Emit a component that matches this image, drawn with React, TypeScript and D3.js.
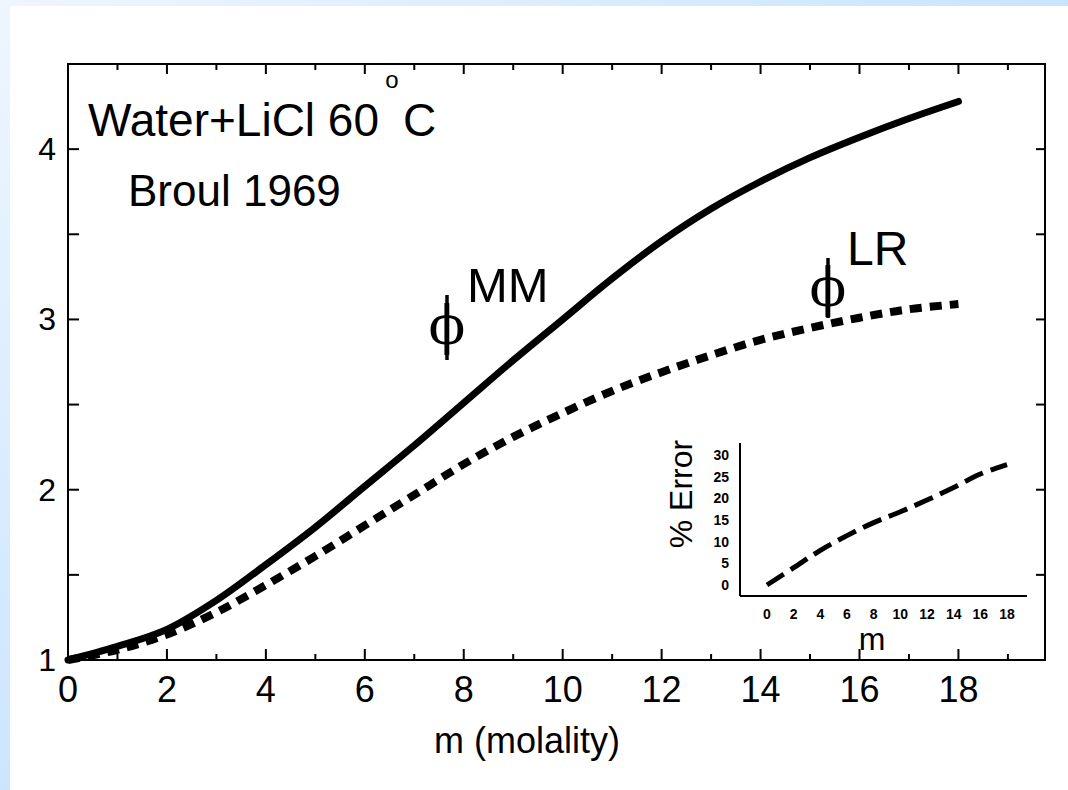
import React from 'react';
import * as d3 from 'd3';

// ---- data ----
const molality = [0, 1, 2, 3, 4, 5, 6, 7, 8, 9, 10, 11, 12, 13, 14, 15, 16, 17, 18];
const phiMM = [1.0, 1.08, 1.18, 1.35, 1.56, 1.78, 2.02, 2.26, 2.51, 2.76, 3.0, 3.24, 3.46, 3.65, 3.81, 3.95, 4.07, 4.18, 4.28];
const phiLR = [1.0, 1.06, 1.15, 1.28, 1.44, 1.61, 1.79, 1.97, 2.15, 2.31, 2.45, 2.58, 2.69, 2.79, 2.88, 2.95, 3.01, 3.06, 3.09];
const insetM = [0, 2, 4, 6, 8, 10, 12, 14, 16, 18];
const insetErr = [0, 4.0, 8.0, 11.4, 14.4, 16.9, 19.6, 22.5, 25.6, 27.8];
const xTicks = [0, 2, 4, 6, 8, 10, 12, 14, 16, 18];
const xMinorTicks = [1, 3, 5, 7, 9, 11, 13, 15, 17, 19];
const yTicks = [1, 2, 3, 4];
const yMinorTicks = [1.5, 2.5, 3.5];
const insetYTicks = [0, 5, 10, 15, 20, 25, 30];
const insetXTicks = [0, 2, 4, 6, 8, 10, 12, 14, 16, 18];

const SANS = '"Liberation Sans", Arial, Helvetica, sans-serif';
const SERIF = '"DejaVu Serif", "Liberation Serif", serif';

export default function App() {
  const W = 1068;
  const H = 790;
  const x = d3.scaleLinear().domain([0, 19.75]).range([68, 1045]);
  const y = d3.scaleLinear().domain([1, 4.5]).range([660, 64]);
  const [x0, x1] = x.range();
  const [yb, yt] = y.range();

  const mainLine = (vals: number[]) =>
    d3
      .line<number>()
      .x((_, i) => x(molality[i]))
      .y((d) => y(d))
      .curve(d3.curveCatmullRom.alpha(0.5))(vals) as string;

  const ix = d3.scaleLinear().domain([0, 18]).range([767, 1007]);
  const iy = d3.scaleLinear().domain([0, 30]).range([585, 455]);
  const insetPath = d3
    .line<number>()
    .x((_, i) => ix(insetM[i]))
    .y((d) => iy(d))
    .curve(d3.curveCatmullRom.alpha(0.5))(insetErr) as string;

  const phiMarks = [
    { cx: 447, cy: 344, top: 295, bottom: 360 },
    { cx: 828, cy: 306, top: 258, bottom: 318 },
  ];

  return (
    <svg
      width={W}
      height={H}
      viewBox={`0 0 ${W} ${H}`}
      style={{ position: 'absolute', left: 0, top: 0, display: 'block' }}
    >
      <defs>
        <linearGradient id="topBand" x1="0" x2="1" y1="0" y2="0">
          <stop offset="0" stopColor="#eef6ff" />
          <stop offset="1" stopColor="#c9e4ff" />
        </linearGradient>
        <linearGradient id="leftBand" x1="0" x2="0" y1="0" y2="1">
          <stop offset="0" stopColor="#eef6ff" />
          <stop offset="1" stopColor="#cce5ff" />
        </linearGradient>
      </defs>
      <rect x={0} y={0} width={W} height={H} fill="#ffffff" />
      <rect x={0} y={0} width={W} height={6} fill="url(#topBand)" />
      <rect x={0} y={0} width={10} height={H} fill="url(#leftBand)" />

      {/* frame */}
      <rect x={x0} y={yt} width={x1 - x0} height={yb - yt} fill="none" stroke="#000" strokeWidth={2} />

      {/* x ticks bottom & top */}
      {xTicks.map((t) => (
        <g key={'xt' + t}>
          <line x1={x(t)} x2={x(t)} y1={yb} y2={yb - 11} stroke="#000" strokeWidth={2} />
          <line x1={x(t)} x2={x(t)} y1={yt} y2={yt + 10} stroke="#000" strokeWidth={2} />
        </g>
      ))}
      {xMinorTicks.map((t) => (
        <g key={'xm' + t}>
          <line x1={x(t)} x2={x(t)} y1={yb} y2={yb - 6} stroke="#000" strokeWidth={2} />
          <line x1={x(t)} x2={x(t)} y1={yt} y2={yt + 6} stroke="#000" strokeWidth={2} />
        </g>
      ))}
      {/* y ticks left & right */}
      {yTicks.concat(yMinorTicks).map((t) => (
        <g key={'yt' + t}>
          <line x1={x0} x2={x0 + 11} y1={y(t)} y2={y(t)} stroke="#000" strokeWidth={2} />
          <line x1={x1} x2={x1 - 9} y1={y(t)} y2={y(t)} stroke="#000" strokeWidth={2} />
        </g>
      ))}

      {/* tick labels */}
      {xTicks.map((t) => (
        <text key={'xl' + t} x={x(t)} y={702} fontFamily={SANS} fontSize={36} textAnchor="middle" fill="#000">
          {String(t)}
        </text>
      ))}
      {yTicks.map((t) => (
        <text key={'yl' + t} x={56} y={y(t) + 11} fontFamily={SANS} fontSize={32} textAnchor="end" fill="#000">
          {String(t)}
        </text>
      ))}
      <text x={527} y={753} fontFamily={SANS} fontSize={36} textAnchor="middle" fill="#000">
        m (molality)
      </text>

      {/* curves */}
      <path d={mainLine(phiMM)} fill="none" stroke="#000" strokeWidth={7} strokeLinecap="round" strokeLinejoin="round" />
      <path d={mainLine(phiLR)} fill="none" stroke="#000" strokeWidth={8} strokeDasharray="12 8" />

      {/* title */}
      <text x={88} y={136} fontFamily={SANS} fontSize={46} fill="#000">
        Water+LiCl 60
      </text>
      <text x={392} y={88} fontFamily={SANS} fontSize={24} textAnchor="middle" fill="#000">
        o
      </text>
      <text x={403} y={136} fontFamily={SANS} fontSize={46} fill="#000">
        C
      </text>
      <text x={128} y={206} fontFamily={SANS} fontSize={44} fill="#000">
        Broul 1969
      </text>

      {/* phi labels */}
      {phiMarks.map((p, i) => (
        <g key={'phi' + i}>
          <line x1={p.cx} x2={p.cx} y1={p.top} y2={p.bottom} stroke="#000" strokeWidth={3.5} />
          <text x={p.cx} y={p.cy} fontFamily={SERIF} fontSize={54} textAnchor="middle" fill="#000">
            ϕ
          </text>
        </g>
      ))}
      <text x={467} y={302} fontFamily={SANS} fontSize={49} fill="#000">
        MM
      </text>
      <text x={847} y={265} fontFamily={SANS} fontSize={48} fill="#000">
        LR
      </text>

      {/* inset */}
      <line x1={740} x2={740} y1={443} y2={596} stroke="#000" strokeWidth={2} />
      <line x1={740} x2={1027} y1={596} y2={596} stroke="#000" strokeWidth={2} />
      {insetYTicks.map((t) => (
        <text key={'iy' + t} x={729} y={iy(t) + 5} fontFamily={SANS} fontSize={14} fontWeight="bold" textAnchor="end" fill="#000">
          {String(t)}
        </text>
      ))}
      {insetXTicks.map((t) => (
        <text key={'ix' + t} x={ix(t)} y={619} fontFamily={SANS} fontSize={14} fontWeight="bold" textAnchor="middle" fill="#000">
          {String(t)}
        </text>
      ))}
      <text x={872} y={650} fontFamily={SANS} fontSize={32} textAnchor="middle" fill="#000">
        m
      </text>
      <text
        x={0}
        y={0}
        transform="translate(692,494) rotate(-90)"
        fontFamily={SANS}
        fontSize={32}
        textAnchor="middle"
        fill="#000"
      >
        % Error
      </text>
      <path d={insetPath} fill="none" stroke="#000" strokeWidth={5} strokeDasharray="20 8" />
    </svg>
  );
}
